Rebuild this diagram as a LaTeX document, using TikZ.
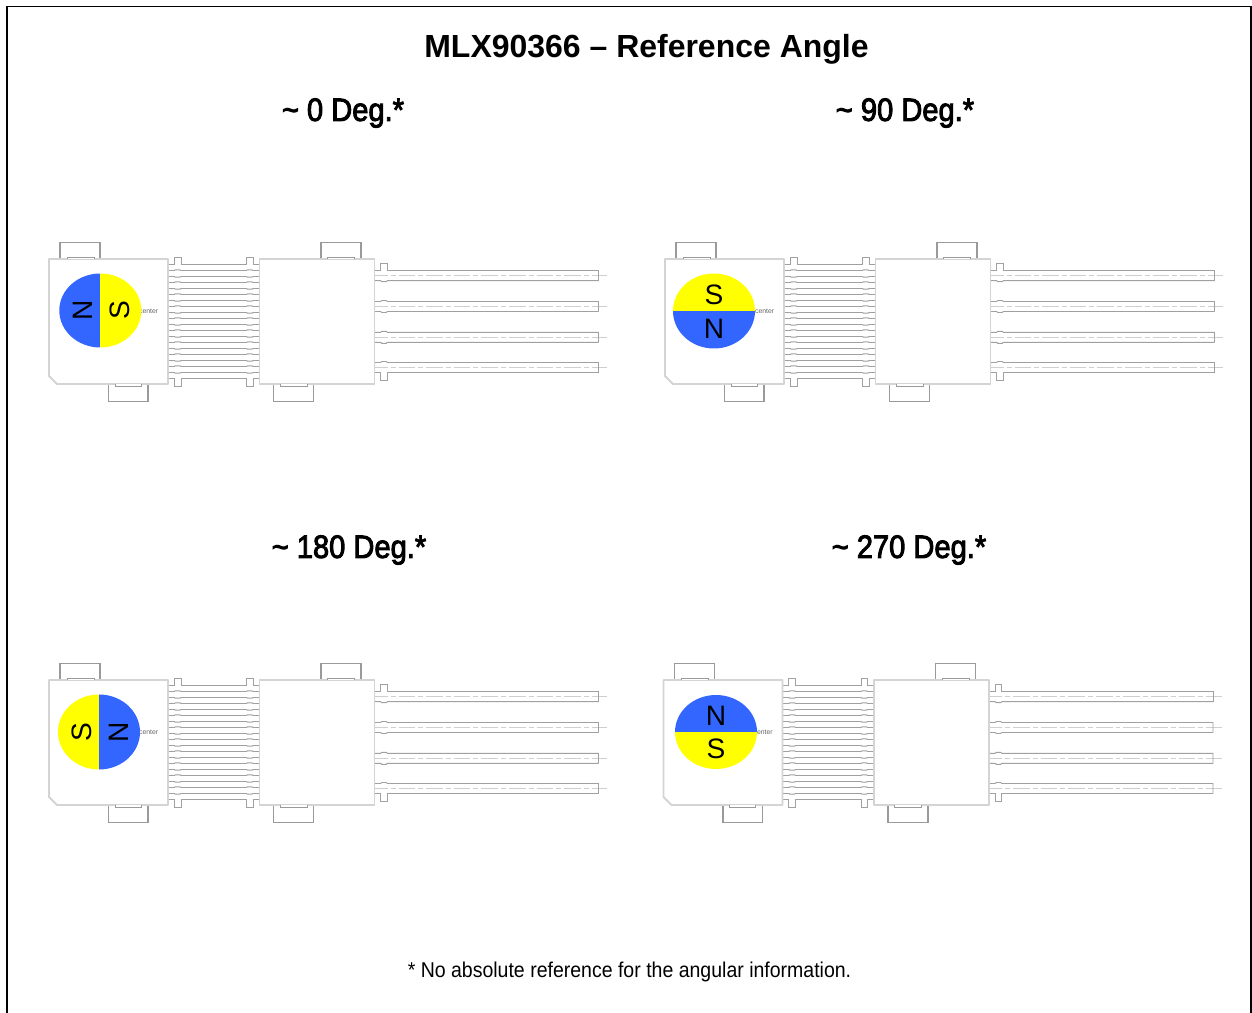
\documentclass[tikz,border=0pt]{standalone}
\usepackage{fontspec}
\setmainfont{Liberation Sans}
\newfontfamily\headfont[FakeBold=3]{Liberation Sans}
\definecolor{magblue}{HTML}{3366FF}
\definecolor{magyellow}{HTML}{FFFF00}
\definecolor{bodyedge}{HTML}{D4D4D4}
\definecolor{tabedge}{HTML}{9A9A9A}
\definecolor{leadedge}{HTML}{A0A0A0}
\definecolor{axisline}{HTML}{CFCFCF}
\tikzset{
  bodyline/.style={draw=bodyedge,line width=1.1pt,fill=white,line join=round},
  tabline/.style={draw=tabedge,line width=0.6pt,fill=white},
  leadline/.style={draw=leadedge,line width=0.55pt},
  axis/.style={draw=axisline,line width=0.55pt,dash pattern=on 9.5pt off 1.7pt on 2.8pt off 1.7pt},
  titletext/.style={font=\bfseries\fontsize{18.2}{22}\selectfont,inner sep=0pt},
  headtext/.style={font=\headfont\fontsize{18.4}{22}\selectfont,inner sep=0pt,xscale=0.9},
  foottext/.style={font=\fontsize{12.2}{15}\selectfont,inner sep=0pt,xscale=0.91},
  poletext/.style={font=\fontsize{16}{18}\selectfont,inner sep=0pt,text=black},
  smalltext/.style={font=\fontsize{3.9}{5}\selectfont,inner sep=0pt,text=black!60},
}
\newcommand{\chipdrawing}[3]{%
\begin{scope}[shift={(#1,#2)}]
  % tabs
  \draw[tabline] (60,259) -- (60,242.5) -- (100,242.5) -- (100,259);
  \draw[tabline] (108.5,384) -- (108.5,401.5) -- (148,401.5) -- (148,384);
  \draw[tabline] (321,259) -- (321,242.5) -- (361,242.5) -- (361,259);
  \draw[tabline] (273.5,384) -- (273.5,401.5) -- (313.5,401.5) -- (313.5,384);
  % leads between the bodies
  \draw[leadline] (168,264.5) -- (174.3,264.5) -- (174.3,257) -- (181,257) -- (181,264.5)
     -- (246.5,264.5) -- (246.5,257) -- (253,257) -- (253,264.5) -- (259.5,264.5);
  \draw[leadline] (168,378.5) -- (174.3,378.5) -- (174.3,386.5) -- (181,386.5) -- (181,378.5)
     -- (246.5,378.5) -- (246.5,386.5) -- (253,386.5) -- (253,378.5) -- (259.5,378.5);
  \foreach \i in {1,3,...,17} {
    \pgfmathsetmacro{\ya}{264.5+6*\i}
    \pgfmathsetmacro{\yb}{\ya+6}
    \draw[leadline] (168,\ya) -- (174.3,\ya) -- (175.3,\ya-0.7) -- (180,\ya-0.7) -- (181,\ya)
       -- (246.5,\ya) -- (247.5,\ya-0.7) -- (252,\ya-0.7) -- (253,\ya) -- (259.5,\ya);
    \draw[leadline] (168,\yb) -- (174.3,\yb) -- (175.3,\yb+0.7) -- (180,\yb+0.7) -- (181,\yb)
       -- (246.5,\yb) -- (247.5,\yb+0.7) -- (252,\yb+0.7) -- (253,\yb) -- (259.5,\yb);
  }
  % outer leads
  \foreach \c/\up/\dn in {275.7/263.5/1,306.5/1/1,337.3/1/1,367.5/1/380} {
    \draw[axis] (371,\c) -- (607,\c);
    \ifdim \up pt>2pt
      \draw[leadline] (374.5,\c-5) -- (380.7,\c-5) -- (380.7,\up) -- (387.3,\up) -- (387.3,\c-5) -- (598.5,\c-5) -- (598.5,\c+5);
    \else
      \draw[leadline] (374.5,\c-5) -- (380.7,\c-5) -- (381.7,\c-6) -- (386.3,\c-6) -- (387.3,\c-5) -- (598.5,\c-5) -- (598.5,\c+5);
    \fi
    \ifdim \dn pt>2pt
      \draw[leadline] (374.5,\c+5) -- (380.7,\c+5) -- (380.7,\dn) -- (387.3,\dn) -- (387.3,\c+5) -- (598.5,\c+5);
    \else
      \draw[leadline] (374.5,\c+5) -- (380.7,\c+5) -- (381.7,\c+6) -- (386.3,\c+6) -- (387.3,\c+5) -- (598.5,\c+5);
    \fi
  }
  % bodies
  \draw[bodyline] (49,259) -- (168,259) -- (168,384) -- (57,384) -- (49,376) -- cycle;
  \draw[bodyline] (259.5,259) rectangle (374.5,384);
  % windows into the tabs
  \draw[tabline,line width=0.5pt] (67,259) -- (67,257) -- (94,257) -- (94,259);
  \draw[tabline,line width=0.5pt] (115,384) -- (115,386.5) -- (141,386.5) -- (141,384);
  \draw[tabline,line width=0.5pt] (327.5,259) -- (327.5,257) -- (354.5,257) -- (354.5,259);
  \draw[tabline,line width=0.5pt] (280,384) -- (280,386.5) -- (307,386.5) -- (307,384);
  \node[smalltext,anchor=east] (#3label) at (158.5,311.7) {center};
\end{scope}}
\begin{document}
\begin{tikzpicture}[x=0.02cm,y=-0.02cm]
\useasboundingbox (0,0) rectangle (1252,1013);
\fill[white] (0,0) rectangle (1252,1013);
\draw[black,line width=1pt] (7.3,1013) -- (7.3,6.5) -- (1250.7,6.5) -- (1250.7,1013);
\node[titletext] (title) at (646.5,49) {MLX90366 – Reference Angle};
\node[headtext] (headA) at (343,113) {\textasciitilde{} 0 Deg.*};
\node[headtext] (headB) at (905,113) {\textasciitilde{} 90 Deg.*};
\node[headtext] (headC) at (349,550) {\textasciitilde{} 180 Deg.*};
\node[headtext] (headD) at (909,550) {\textasciitilde{} 270 Deg.*};
\node[foottext] (foot) at (629.5,972) {* No absolute reference for the angular information.};
\chipdrawing{0}{0}{a}
\chipdrawing{616}{0}{b}
\chipdrawing{0}{421}{c}
\chipdrawing{614.5}{421}{d}
% magnets
\begin{scope}
  \clip (100.3,310.5) ellipse [x radius=41,y radius=37];
  \fill[magblue] (59,273) rectangle (100.3,348);
  \fill[magyellow] (100.3,273) rectangle (142,348);
\end{scope}
\node[poletext,rotate=90] (na) at (83,310.5) {N};
\node[poletext,rotate=90] (sa) at (120,310.5) {S};
\begin{scope}
  \clip (714,311) ellipse [x radius=41,y radius=37.5];
  \fill[magyellow] (672,273) rectangle (756,311);
  \fill[magblue] (672,311) rectangle (756,349);
\end{scope}
\node[poletext] (sb) at (714,294.5) {S};
\node[poletext] (nb) at (714,328.5) {N};
\begin{scope}
  \clip (99,732) ellipse [x radius=41,y radius=37.5];
  \fill[magyellow] (57,694) rectangle (99,770);
  \fill[magblue] (99,694) rectangle (141,770);
\end{scope}
\node[poletext,rotate=90] (sc) at (82,732) {S};
\node[poletext,rotate=90] (nc) at (118.5,732) {N};
\begin{scope}
  \clip (716,732) ellipse [x radius=41,y radius=37];
  \fill[magblue] (674,694) rectangle (758,732);
  \fill[magyellow] (674,732) rectangle (758,770);
\end{scope}
\node[poletext] (nd) at (716,715.5) {N};
\node[poletext] (sd) at (716,749) {S};
\end{tikzpicture}
\end{document}
